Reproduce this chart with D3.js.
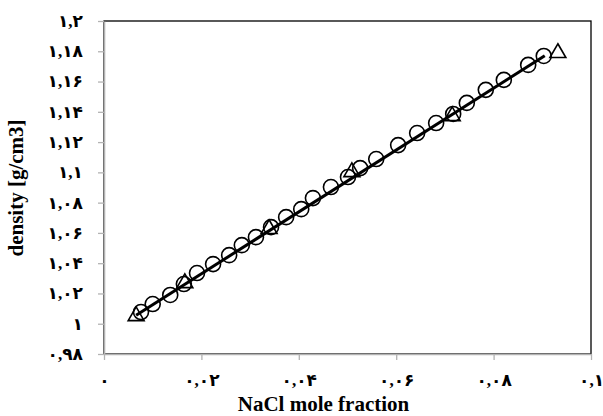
<!DOCTYPE html>
<html>
<head>
<meta charset="utf-8">
<script src="https://cdn.jsdelivr.net/npm/d3@7"></script>
<style>
  html, body { margin: 0; padding: 0; background: #fff; }
  svg { display: block; }
  text { font-family: "Liberation Serif", "Times New Roman", serif; font-weight: bold; fill: #000; }
</style>
</head>
<body>
<svg id="chart" width="603" height="416"></svg>
<script>
// ---- data ----
const circleX = [0.0076, 0.0100, 0.0136, 0.0164, 0.0191, 0.0224, 0.0257, 0.0283, 0.0312, 0.0343, 0.0374, 0.0405, 0.0429,
                 0.0466, 0.0501, 0.0526, 0.0559, 0.0604, 0.0643, 0.0682, 0.0717, 0.0745, 0.0784, 0.0821, 0.0871, 0.0903];
const circleY = [1.0077, 1.0130, 1.0190, 1.0262, 1.0335, 1.0394, 1.0453, 1.0519, 1.0572, 1.0638, 1.0704, 1.0757, 1.0830,
                 1.0903, 1.0969, 1.1028, 1.1088, 1.1180, 1.1260, 1.1326, 1.1386, 1.1459, 1.1545, 1.1611, 1.1710, 1.1769];
const triangleX = [0.0066, 0.0166, 0.0339, 0.0509, 0.0715, 0.0932];
const triangleY = [1.0051, 1.0269, 1.0626, 1.1002, 1.1372, 1.1789];
const lineX = [0.0066, 0.0905];
const lineY = [1.0056, 1.1771];
const xTicks = [0, 0.02, 0.04, 0.06, 0.08, 0.1];
const yTicks = [0.98, 1, 1.02, 1.04, 1.06, 1.08, 1.1, 1.12, 1.14, 1.16, 1.18, 1.2];
const xTitle = "NaCl mole fraction";
const yTitle = "density [g/cm3]";

// ---- helpers ----
const persianDigits = "۰۱۲۳۴۵۶۷۸۹";
function fa(v) {
  const s = String(+v.toFixed(4));
  return s.replace(/[0-9]/g, d => persianDigits[+d]).replace(".", ",");
}

const svg = d3.select("#chart");
const margin = { left: 104, right: 12, top: 21, bottom: 62 };
const W = 603, H = 416;
const x = d3.scaleLinear().domain([0, 0.1]).range([margin.left, W - margin.right]);
const y = d3.scaleLinear().domain([0.98, 1.2]).range([H - margin.bottom, margin.top]);

// plot area border (top/right black)
svg.append("rect")
  .attr("x", x(0)).attr("y", y(1.2))
  .attr("width", x(0.1) - x(0)).attr("height", y(0.98) - y(1.2))
  .attr("fill", "none").attr("stroke", "#000").attr("stroke-width", 1.3);

// axes
const xAxis = svg.append("g").attr("transform", `translate(0,${y(0.98)})`)
  .call(d3.axisBottom(x).tickValues(xTicks).tickFormat(fa).tickSize(6).tickSizeOuter(0));
const yAxis = svg.append("g").attr("transform", `translate(${x(0)},0)`)
  .call(d3.axisLeft(y).tickValues(yTicks).tickFormat(fa).tickSize(6).tickSizeOuter(0));
[xAxis, yAxis].forEach(g => {
  g.select(".domain").attr("stroke", "#b3b3b3").attr("stroke-width", 1.6);
  g.selectAll(".tick line").attr("stroke", "#b3b3b3").attr("stroke-width", 1.3);
  g.selectAll(".tick text").style("font-size", "17px").style("font-weight", "bold")
    .style("font-family", "'Liberation Serif', 'DejaVu Sans', serif").attr("fill", "#000");
});
xAxis.selectAll(".tick text").attr("y", 20).attr("dy", "0.71em");
yAxis.selectAll(".tick text").attr("x", -21);

// trend line
const linePts = lineX.map((v, i) => [v, lineY[i]]);
svg.append("path").datum(linePts)
  .attr("d", d3.line().x(d => x(d[0])).y(d => y(d[1])))
  .attr("stroke", "#000").attr("stroke-width", 3).attr("fill", "none");

// circles
const circ = circleX.map((v, i) => [v, circleY[i]]);
svg.append("g").selectAll("circle").data(circ).join("circle")
  .attr("cx", d => x(d[0])).attr("cy", d => y(d[1])).attr("r", 7.5)
  .attr("fill", "none").attr("stroke", "#000").attr("stroke-width", 1.6);

// triangles
const tri = triangleX.map((v, i) => [v, triangleY[i]]);
const triSym = d3.symbol().type(d3.symbolTriangle).size(110);
svg.append("g").selectAll("path").data(tri).join("path")
  .attr("transform", d => `translate(${x(d[0])},${y(d[1])})`)
  .attr("d", triSym)
  .attr("fill", "none").attr("stroke", "#000").attr("stroke-width", 1.6);

// titles
svg.append("text").attr("x", (x(0) + x(0.1)) / 2 - 24).attr("y", 411)
  .attr("text-anchor", "middle").style("font-size", "21px").text(xTitle);
svg.append("text").attr("transform", `translate(23,${188}) rotate(-90)`)
  .attr("text-anchor", "middle").style("font-size", "21px").text(yTitle);
</script>
</body>
</html>
